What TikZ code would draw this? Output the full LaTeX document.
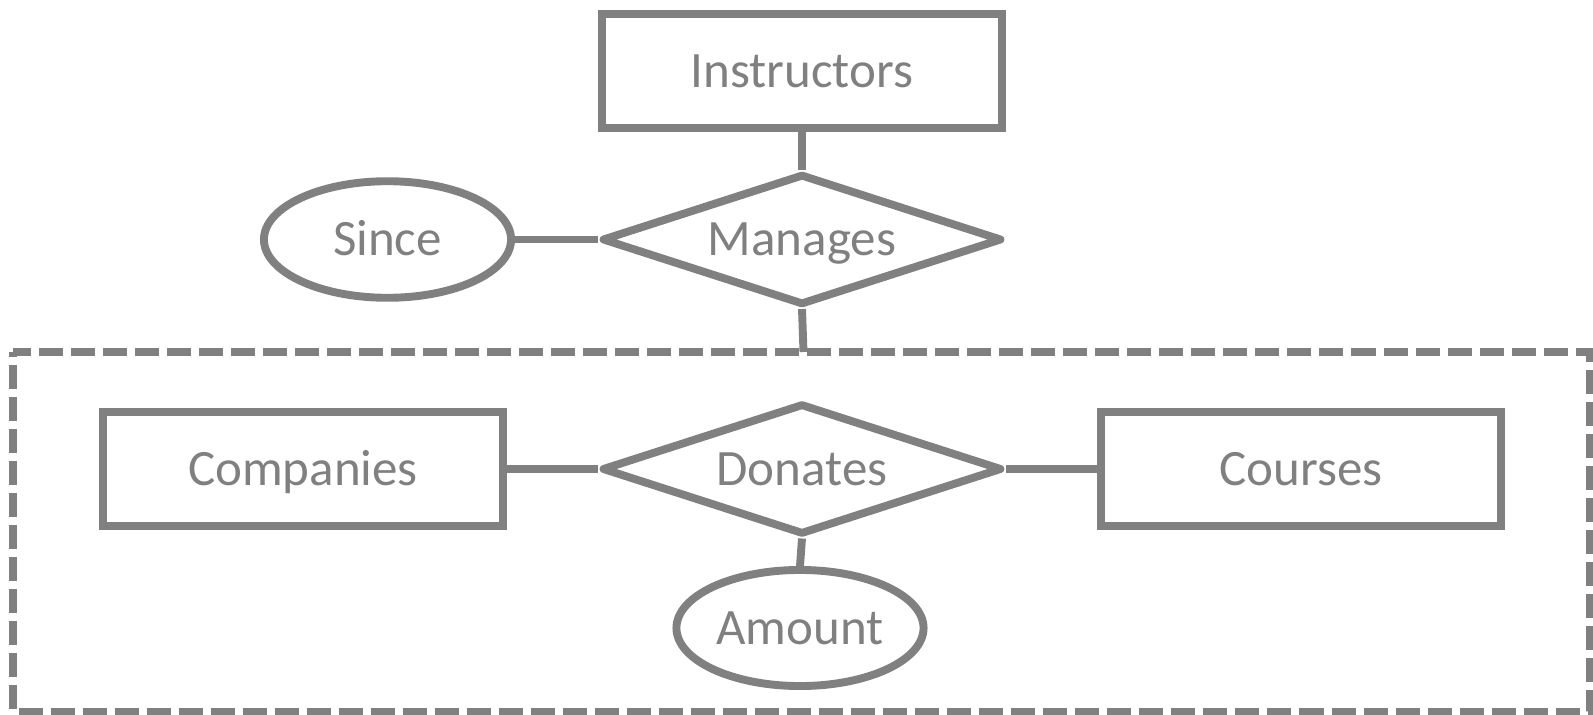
\documentclass[tikz,border=0pt]{standalone}
\usepackage{fontspec}
\setmainfont{Carlito}
\usetikzlibrary{shapes.geometric}
\definecolor{ergray}{HTML}{808080}
\begin{document}
\begin{tikzpicture}[x=0.01cm,y=-0.01cm,
  every node/.style={text=ergray,font=\fontsize{14.5}{16}\selectfont,text height=9.3pt,text depth=0pt},
  line/.style={draw=ergray,line width=2.25pt,line join=round},
  entity/.style={line,rectangle,line join=miter,minimum width=4.00cm,minimum height=1.14cm,inner sep=0pt},
  relation/.style={line,diamond,aspect=3,minimum width=4.00cm,minimum height=1.31cm,inner sep=0pt},
  attrib/.style={line,ellipse,inner sep=0pt},
  aggbox/.style={draw=ergray,line width=2pt,dash pattern=on 0.24cm off 0.08cm,dash phase=0.19cm}]
\useasboundingbox (0,0) rectangle (1593,715);
\draw[aggbox] (13,352) rectangle (1590,711.5);
\node[entity] (ins) at (802,71) {Instructors};
\node[relation] (man) at (802,239.5) {Manages};
\node[attrib,minimum width=2.47cm,minimum height=1.165cm] (since) at (387.5,239.5) {Since};
\node[entity] (com) at (303,469) {Companies};
\node[relation] (don) at (802,469) {Donates};
\node[entity] (cou) at (1301,469) {Courses};
\node[attrib,minimum width=2.47cm,minimum height=1.16cm] (amt) at (800,628) {Amount};
\coordinate (agg) at (803.5,352);
\draw[line] (ins.south) -- (man.north);
\draw[line] (since.east) -- (man.west);
\draw[line] (man.south) -- (agg);
\draw[line] (com.east) -- (don.west);
\draw[line] (don.east) -- (cou.west);
\draw[line] (don.south) -- (amt.north);
\end{tikzpicture}
\end{document}
